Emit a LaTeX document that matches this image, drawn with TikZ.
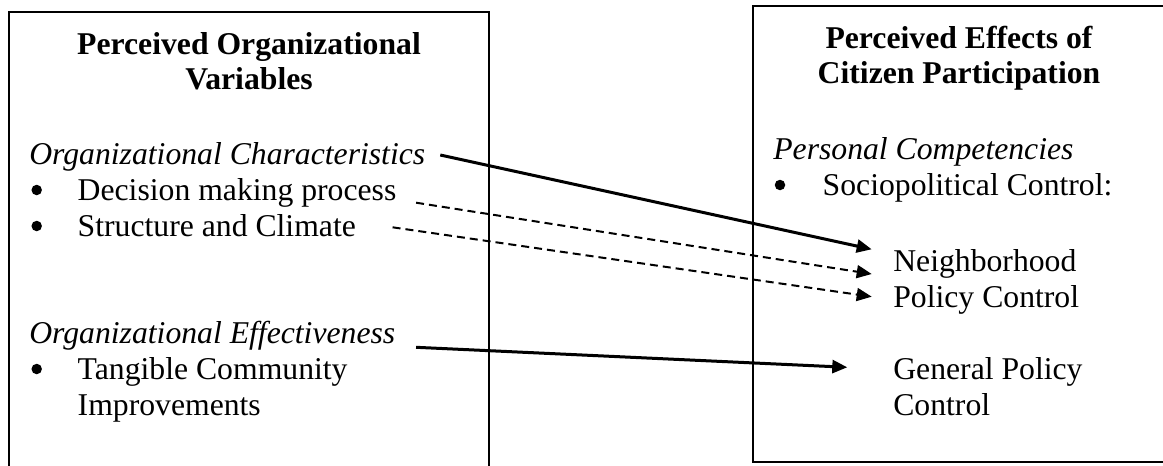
\documentclass[tikz,border=0pt]{standalone}
\usepackage{fontspec}
\setmainfont{Liberation Serif}
\usetikzlibrary{arrows.meta}
\tikzset{
  frame/.style={draw=black, line width=2pt},
  txt/.style={anchor=base west, inner sep=0pt, outer sep=0pt, font=\fontsize{31.7}{38}\selectfont},
  hdr/.style={txt, font=\fontsize{31.7}{38}\selectfont\itshape},
  ttl/.style={anchor=base, inner sep=0pt, outer sep=0pt, font=\fontsize{31.7}{38}\selectfont\bfseries},
  bul/.style={circle, fill=black, inner sep=0pt, outer sep=0pt, minimum size=10.5pt},
  solidarrow/.style={line width=3pt, -{Triangle[length=15pt,width=13pt]}},
  dasharrow/.style={line width=2pt, dash pattern=on 8pt off 5pt, -{Triangle[length=15pt,width=13pt]}}
}
\begin{document}
\begin{tikzpicture}[x=1pt,y=-1pt]
\useasboundingbox (0,0) rectangle (1163,466);
\clip (0,0) rectangle (1163,466);
\fill[white] (0,0) rectangle (1163,466);
% boxes
\draw[frame] (9,480) -- (9,12) -- (489,12) -- (489,480);
\draw[frame] (753,6) rectangle (1167,462);
% left titles
\node[ttl] (lt1) at (249,54) {Perceived Organizational};
\node[ttl] (lt2) at (249,89) {Variables};
% left body
\node[hdr] (oc) at (29.3,164) {Organizational Characteristics};
\node[bul] (b1) at (36.7,190) {};
\node[txt] (dm) at (77.7,200) {Decision making process};
\node[bul] (b2) at (36.7,226) {};
\node[txt] (sc) at (77.7,236) {Structure and Climate};
\node[hdr] (oe) at (29.3,343) {Organizational Effectiveness};
\node[bul] (b3) at (36.7,369) {};
\node[txt] (tc) at (77.7,379) {Tangible Community};
\node[txt] (im) at (77.7,415) {Improvements};
% right titles
\node[ttl] (rt1) at (959,48) {Perceived Effects of};
\node[ttl] (rt2) at (959,83) {Citizen Participation};
% right body
\node[hdr] (pc) at (773.3,159) {Personal Competencies};
\node[bul] (b4) at (780,185) {};
\node[txt] (sp) at (822.7,195) {Sociopolitical Control:};
\node[txt] (nb) at (893.3,271) {Neighborhood};
\node[txt] (pol) at (893.3,307) {Policy Control};
\node[txt] (gp) at (893.3,379) {General Policy};
\node[txt] (ct) at (893.3,415) {Control};
% arrows
\draw[solidarrow] ([xshift=15pt,yshift=9pt]oc.base east) -- ([xshift=-21.6pt,yshift=21.7pt]nb.base west);
\draw[dasharrow] ([xshift=19.7pt,yshift=-2.7pt]dm.base east) -- ([xshift=-21.6pt,yshift=-3pt]nb.base west);
\draw[dasharrow] ([xshift=36.7pt,yshift=8.7pt]sc.base east) -- ([xshift=-21.6pt,yshift=10.3pt]pol.base west);
\draw[solidarrow] ([xshift=20.8pt,yshift=-4.3pt]oe.base east) -- ([xshift=-46pt,yshift=11.7pt]gp.base west);
\end{tikzpicture}
\end{document}
